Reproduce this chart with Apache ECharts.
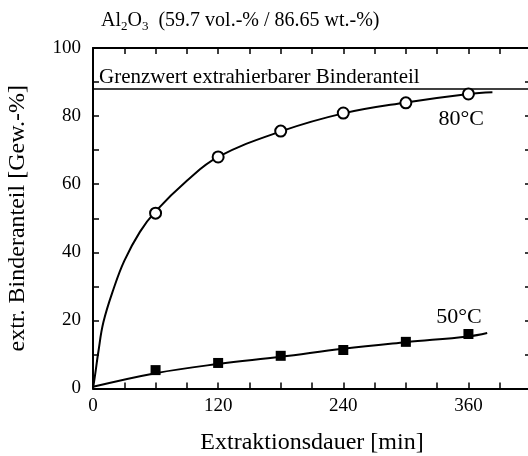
<!DOCTYPE html>
<html>
<head>
<meta charset="utf-8">
<script src="https://cdn.jsdelivr.net/npm/echarts@6/dist/echarts.min.js"></script>
<style>
  html, body { margin: 0; padding: 0; background: #fff; }
  #chart { width: 528px; height: 456px; }
</style>
</head>
<body>
<div id="chart"></div>
<script>
// Messpunkte
var time = [60, 120, 180, 240, 300, 360];
var val80 = [51.5, 68, 75.6, 80.9, 83.9, 86.5];
var val50 = [5.4, 7.5, 9.6, 11.3, 13.7, 16.0];

// Ausgleichskurven
var fitTime80 = [0, 2, 5, 10, 20, 30, 45, 60, 90, 120, 180, 240, 300, 360, 383];
var fitVal80 = [0, 4, 10.5, 19.5, 29.5, 37.5, 46, 52, 61, 68, 75.5, 80.8, 84, 86.5, 87];
var fitTime50 = [0, 60, 120, 180, 240, 300, 360, 378];
var fitVal50 = [0.5, 4.5, 7.2, 9.3, 11.7, 13.6, 15.3, 16.3];

var grenzwert = 88;
var xTicks = [0, 120, 240, 360];
var yTicks = [0, 20, 40, 60, 80, 100];

var serif = "Liberation Serif";

function zip(a, b) {
  return a.map(function (v, i) { return [v, b[i]]; });
}

var chart = echarts.init(document.getElementById("chart"));

var axisBase = {
  type: "value",
  axisLine: { show: true, onZero: false, lineStyle: { color: "#000", width: 2 } },
  axisTick: { show: true, inside: true, length: 6, lineStyle: { color: "#000", width: 1.5 } },
  splitLine: { show: false }
};

function tempLabel(text, x, y) {
  return {
    symbol: "circle",
    symbolSize: 0,
    label: {
      show: true, position: "inside", formatter: text,
      fontFamily: serif, fontSize: 22, color: "#000"
    },
    data: [{ coord: [x, y] }]
  };
}

var option = {
  animation: false,
  backgroundColor: "#fff",
  title: {
    text: "{a|Al}{s|2}{a|O}{s|3}{a|  (59.7 vol.-% / 86.65 wt.-%)}",
    left: 96,
    top: 4,
    textStyle: {
      rich: {
        a: { fontFamily: serif, fontSize: 20, fontWeight: "normal", color: "#000" },
        s: { fontFamily: serif, fontSize: 13, fontWeight: "normal", color: "#000", padding: [11, 0, 0, 0] }
      }
    }
  },
  grid: { left: 93, top: 48, width: 438, height: 340.5, outerBoundsMode: "none", containLabel: false },
  xAxis: [
    Object.assign({}, axisBase, {
      min: 0, max: 420, interval: 30,
      name: "Extraktionsdauer [min]",
      nameLocation: "middle",
      nameGap: 42,
      nameTextStyle: { fontFamily: serif, fontSize: 24, color: "#000" },
      axisLabel: {
        fontFamily: serif, fontSize: 19, color: "#000", margin: 8,
        formatter: function (v) { return xTicks.indexOf(v) >= 0 ? String(v) : ""; }
      }
    }),
    Object.assign({}, axisBase, {
      position: "top", min: 0, max: 420, interval: 30,
      axisLabel: { show: false }
    })
  ],
  yAxis: [
    Object.assign({}, axisBase, {
      min: 0, max: 100, interval: 10,
      name: "extr. Binderanteil [Gew.-%]",
      nameLocation: "middle",
      nameGap: 63,
      nameTextStyle: { fontFamily: serif, fontSize: 24, color: "#000" },
      axisLabel: {
        fontFamily: serif, fontSize: 19, color: "#000", margin: 12,
        formatter: function (v) { return yTicks.indexOf(v) >= 0 ? String(v) : ""; }
      }
    }),
    Object.assign({}, axisBase, {
      position: "right", min: 0, max: 100, interval: 10,
      axisLabel: { show: false }
    })
  ],
  series: [
    {
      name: "80°C Kurve",
      type: "line",
      smooth: 0.4,
      showSymbol: false,
      data: zip(fitTime80, fitVal80),
      lineStyle: { color: "#000", width: 2 },
      markLine: {
        silent: true,
        symbol: "none",
        lineStyle: { color: "#000", width: 1.5, type: "solid" },
        label: {
          show: true,
          position: "insideStartTop",
          distance: [6, 1],
          formatter: "Grenzwert extrahierbarer Binderanteil",
          fontFamily: serif, fontSize: 21, color: "#000"
        },
        data: [{ yAxis: grenzwert }]
      },
      markPoint: tempLabel("80°C", 353, 79)
    },
    {
      name: "50°C Kurve",
      type: "line",
      smooth: 0.4,
      showSymbol: false,
      data: zip(fitTime50, fitVal50),
      lineStyle: { color: "#000", width: 2 },
      markPoint: tempLabel("50°C", 351, 21)
    },
    {
      name: "80°C",
      type: "scatter",
      symbol: "circle",
      symbolSize: 11,
      data: zip(time, val80),
      itemStyle: { color: "#fff", borderColor: "#000", borderWidth: 2, opacity: 1 },
      z: 5
    },
    {
      name: "50°C",
      type: "scatter",
      symbol: "rect",
      symbolSize: 10,
      data: zip(time, val50),
      itemStyle: { color: "#000", opacity: 1 },
      z: 5
    }
  ]
};

chart.setOption(option);
</script>
</body>
</html>
